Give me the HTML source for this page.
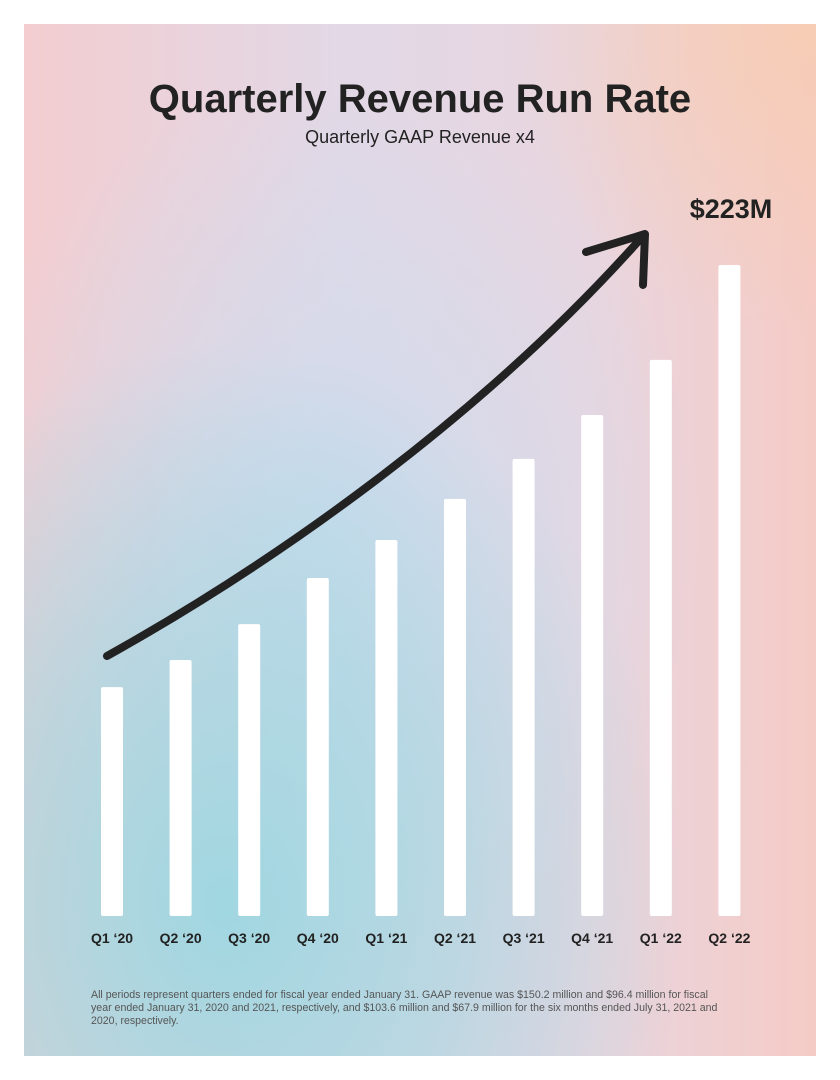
<!DOCTYPE html>
<html><head><meta charset="utf-8"><style>
html,body{margin:0;padding:0;background:#fff;}
body{width:840px;height:1080px;position:relative;overflow:hidden;font-family:"Liberation Sans",sans-serif;}
#card{position:absolute;left:24px;top:24px;width:792px;height:1032px;overflow:hidden;
background:
radial-gradient(ellipse 460px 560px at 200px 880px, rgba(160,215,225,1), rgba(160,215,225,0.6) 50%, rgba(160,215,225,0) 100%),
radial-gradient(ellipse 380px 440px at 300px 500px, rgba(205,220,238,0.9), rgba(205,220,238,0) 100%),
radial-gradient(ellipse 300px 300px at 780px 10px, rgba(247,205,180,0.9), rgba(247,205,180,0) 100%),
linear-gradient(90deg,#f3cdd0 0%,#e2d8e6 40%,#e8d6e0 70%,#f5cbc6 100%);}
svg{position:absolute;left:0;top:0;}
</style></head><body>
<div id="card"></div>
<svg id="chart" width="840" height="1080">
<text x="420" y="112" text-anchor="middle" font-size="40" font-weight="bold" fill="#222">Quarterly Revenue Run Rate</text>
<text x="420" y="143" text-anchor="middle" font-size="18" fill="#222">Quarterly GAAP Revenue x4</text>
<text x="731" y="218" text-anchor="middle" font-size="27" font-weight="bold" fill="#222">$223M</text>
<path d="M107,656 C270,565 480,420 643,236" fill="none" stroke="#222" stroke-width="8" stroke-linecap="round"/>
<path d="M586,252 L645,234 L643,285" fill="none" stroke="#222" stroke-width="8" stroke-linecap="round" stroke-linejoin="round"/>
<g id="bars"></g>
<g id="labels"></g>
<text font-size="10.6" fill="#555">
<tspan x="91" y="998">All periods represent quarters ended for fiscal year ended January 31. GAAP revenue was $150.2 million and $96.4 million for fiscal</tspan>
<tspan x="91" y="1011">year ended January 31, 2020 and 2021, respectively, and $103.6 million and $67.9 million for the six months ended July 31, 2021 and</tspan>
<tspan x="91" y="1024">2020, respectively.</tspan>
</text>
</svg>
<script>
const categories=["Q1 \u201820","Q2 \u201820","Q3 \u201820","Q4 \u201820","Q1 \u201821","Q2 \u201821","Q3 \u201821","Q4 \u201821","Q1 \u201822","Q2 \u201822"];
const revenueRunRate=[78.4,87.7,100,115.8,128.8,142.9,156.6,171.6,190.5,223];
const yMax=223;
const ns="http://www.w3.org/2000/svg";
const baseY=916, topY=265, x0=112, step=68.6, bw=22;
function y(v){return baseY-(v/yMax)*(baseY-topY);}
function x(i){return x0+i*step;}
const bars=document.getElementById('bars'),labels=document.getElementById('labels');
revenueRunRate.forEach((v,i)=>{
 const r=document.createElementNS(ns,'rect');
 r.setAttribute('x',x(i)-bw/2);r.setAttribute('y',y(v));
 r.setAttribute('width',bw);r.setAttribute('height',baseY-y(v));
 r.setAttribute('rx',2);r.setAttribute('fill','#fff');
 
 
 bars.appendChild(r);
 const t=document.createElementNS(ns,'text');
 t.setAttribute('x',x(i));t.setAttribute('y',943);
 t.setAttribute('text-anchor','middle');t.setAttribute('font-size','14');
 t.setAttribute('font-weight','bold');t.setAttribute('fill','#222');
 t.textContent=categories[i];
 
 
 labels.appendChild(t);
});
</script>
</body></html>
